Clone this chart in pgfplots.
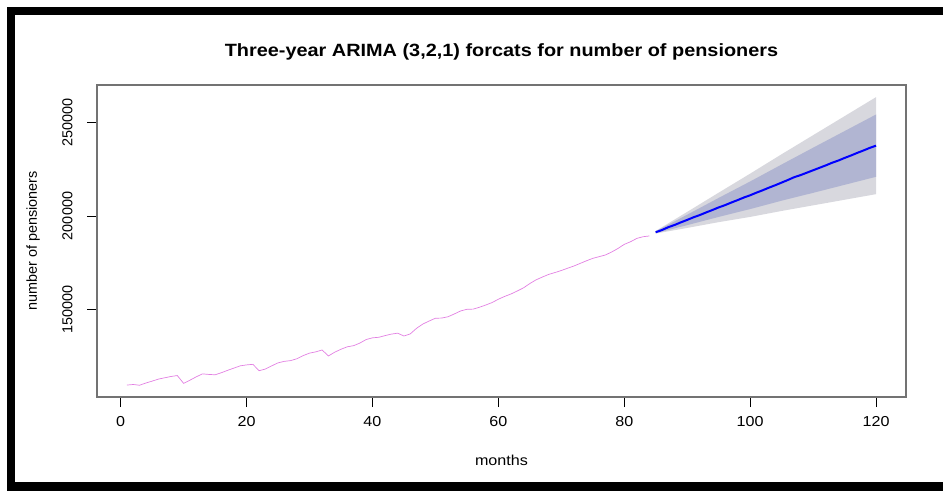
\documentclass[border=0pt]{standalone}
\usepackage{pgfplots}
\pgfplotsset{compat=1.18}
\usepackage{pgfplotstable}
\usepackage{fontspec}
\setmainfont{Liberation Sans}[FakeStretch=1.12]
\newfontfamily\uprightsans{Liberation Sans}

\definecolor{histline}{RGB}{226,128,226}
\definecolor{fcline}{RGB}{0,0,255}
\definecolor{band80}{RGB}{177,181,210}
\definecolor{band95}{RGB}{216,216,222}

% observed monthly number of pensioners
\pgfplotstableread{
m v
1 109400
2 109700
3 109300
4 110500
5 111500
6 112600
7 113300
8 114000
9 114500
10 110300
11 112000
12 113800
13 115400
14 115100
15 114900
16 116000
17 117300
18 118500
19 119700
20 120200
21 120500
22 117100
23 118000
24 119700
25 121300
26 122100
27 122500
28 123500
29 125200
30 126500
31 127200
32 128200
33 125000
34 127000
35 128600
36 129900
37 130500
38 131900
39 133800
40 134700
41 135000
42 135900
43 136700
44 137200
45 135700
46 136800
47 139800
48 142100
49 143700
50 145200
51 145300
52 146000
53 147500
54 149100
55 150000
56 150100
57 151100
58 152300
59 153600
60 155400
61 156900
62 158200
63 159800
64 161500
65 163800
66 165800
67 167300
68 168700
69 169700
70 170800
71 172000
72 173200
73 174600
74 176000
75 177300
76 178200
77 179100
78 180700
79 182600
80 184800
81 186200
82 188000
83 188900
84 189300
}\observed

% ARIMA(3,2,1) point forecasts
\pgfplotstableread{
m mean
85 191300
86 192500
87 194000
88 195200
89 196600
90 197900
91 199300
92 200500
93 201900
94 203200
95 204600
96 205800
97 207200
98 208500
99 209900
100 211100
101 212500
102 213800
103 215200
104 216500
105 217900
106 219300
107 220800
108 221900
109 223200
110 224500
111 225800
112 227100
113 228500
114 229700
115 231100
116 232400
117 233800
118 235100
119 236500
120 237700
}\forecast

% 95% interval outline: upper bound forward, lower bound back
\pgfplotstableread{
m y
85 192000
90 202200
95 212500
100 222700
105 233100
110 243300
115 253500
120 263700
120 211700
115 208700
110 205700
105 202700
100 199500
95 196700
90 193600
85 190600
}\bandouter

% 80% interval outline: upper bound forward, lower bound back
\pgfplotstableread{
m y
85 191800
90 200700
95 209700
100 218500
105 227600
110 236600
115 245500
120 254400
120 221000
115 216700
110 212400
105 208200
100 203700
95 199500
90 195100
85 190800
}\bandinner

\begin{document}
\begin{tikzpicture}
\path[use as bounding box] (0,0) rectangle (943bp,491bp);
% black frame around the figure
\fill[black] (7bp,0) rectangle (15bp,484bp);
\fill[black] (7bp,476bp) rectangle (943bp,484bp);
\fill[black] (7bp,0) rectangle (943bp,9bp);

\begin{axis}[
  at={(97bp,94bp)}, anchor=south west,
  width=809bp, height=312bp, scale only axis,
  xmin=-3.76, xmax=124.76,
  ymin=103000, ymax=270200,
  scaled y ticks=false, scaled x ticks=false,
  xtick={0,20,40,60,80,100,120},
  xticklabels={0,20,40,60,80,100,120},
  ytick={150000,200000,250000},
  yticklabels={150000,200000,250000},
  xtick pos=bottom, ytick pos=left,
  tick align=outside,
  major tick length=10bp,
  tick style={black, line width=0.9bp},
  axis line style={black!55, line width=1.1bp},
  xticklabel style={font=\fontsize{14.4bp}{16bp}\selectfont},
  yticklabel style={rotate=90, anchor=south, font=\fontsize{14.4bp}{16bp}\uprightsans},
  yticklabel shift=11bp,
  xticklabel shift=6bp,
  xlabel={months},
  ylabel={number of pensioners},
  xlabel style={at={(axis description cs:0.5,-0.202)}, anchor=center, font=\fontsize{14.4bp}{16bp}\selectfont},
  ylabel style={at={(axis description cs:-0.079,0.5)}, anchor=center, font=\fontsize{14.4bp}{16bp}\uprightsans},
  title={Three-year ARIMA (3,2,1) forcats for number of pensioners},
  title style={at={(axis description cs:0.5,1.086)}, anchor=center, font=\fontsize{17.75bp}{20bp}\selectfont\bfseries},
]
\addplot[fill=band95, draw=none] table[x=m, y=y] {\bandouter};
\addplot[fill=band80, draw=none] table[x=m, y=y] {\bandinner};
\addplot[histline, line width=0.7bp] table[x=m, y=v] {\observed};
\addplot[fcline, line width=2bp] table[x=m, y=mean] {\forecast};
\end{axis}
\end{tikzpicture}
\end{document}
